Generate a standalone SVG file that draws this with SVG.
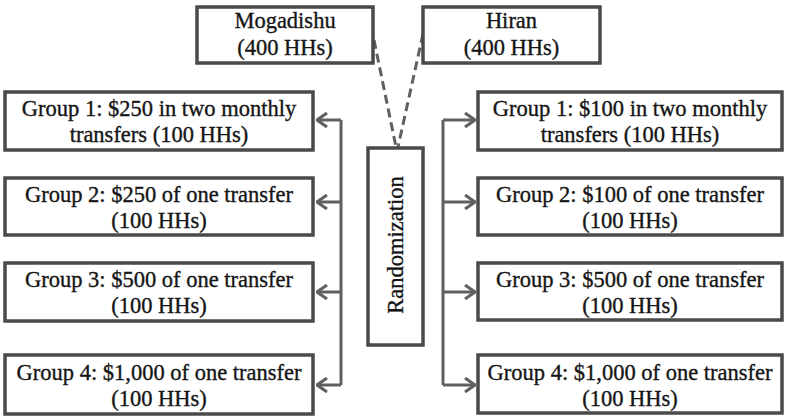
<svg xmlns="http://www.w3.org/2000/svg" width="787" height="416" viewBox="0 0 787 416">
<defs>
<style>
.box{fill:#fff;stroke:#4a4a4a;stroke-width:3.5}
.t{font-family:"Liberation Serif","Times New Roman",serif;font-size:22.5px;fill:#151515;stroke:#151515;stroke-width:0.35;text-anchor:middle}
.c{fill:none;stroke:#606060;stroke-width:3}
.d{fill:none;stroke:#606060;stroke-width:3;stroke-dasharray:9 5}
</style>
<marker id="ah" viewBox="0 0 12 16" refX="11" refY="8" markerWidth="12" markerHeight="16" markerUnits="userSpaceOnUse" orient="auto">
<path d="M1,1 L11,8 L1,15" fill="none" stroke="#606060" stroke-width="3"/>
</marker>
</defs>
<rect width="787" height="416" fill="#fff"/>
<g id="connectors">
<path class="d" d="M374,40 L396,147"/>
<path class="d" d="M423,34 L398,147"/>
<path class="c" d="M341,120 V385"/>
<path class="c" d="M341,120 H317" marker-end="url(#ah)"/>
<path class="c" d="M341,202 H317" marker-end="url(#ah)"/>
<path class="c" d="M341,292 H317" marker-end="url(#ah)"/>
<path class="c" d="M341,385 H317" marker-end="url(#ah)"/>
<path class="c" d="M443,120 V385"/>
<path class="c" d="M443,120 H475" marker-end="url(#ah)"/>
<path class="c" d="M443,202 H475" marker-end="url(#ah)"/>
<path class="c" d="M443,292 H475" marker-end="url(#ah)"/>
<path class="c" d="M443,385 H475" marker-end="url(#ah)"/>
</g>
<g id="mogadishu">
<rect class="box" x="197" y="7" width="176" height="56"/>
<text class="t" x="285" y="28">Mogadishu</text>
<text class="t" x="285" y="55">(400 HHs)</text>
</g>
<g id="hiran">
<rect class="box" x="423" y="7" width="177" height="56"/>
<text class="t" x="511.5" y="28">Hiran</text>
<text class="t" x="511.5" y="55">(400 HHs)</text>
</g>
<g id="randomization">
<rect class="box" x="368" y="148" width="55" height="197"/>
<text class="t" transform="translate(403,245) rotate(-90)">Randomization</text>
</g>
<g id="left-group1">
<rect class="box" x="5" y="92" width="308" height="58"/>
<text class="t" x="159" y="116">Group 1: $250 in two monthly</text>
<text class="t" x="159" y="142">transfers (100 HHs)</text>
</g>
<g id="left-group2">
<rect class="box" x="5" y="178" width="308" height="57"/>
<text class="t" x="159" y="202">Group 2: $250 of one transfer</text>
<text class="t" x="159" y="228">(100 HHs)</text>
</g>
<g id="left-group3">
<rect class="box" x="5" y="263" width="308" height="58"/>
<text class="t" x="159" y="287">Group 3: $500 of one transfer</text>
<text class="t" x="159" y="313">(100 HHs)</text>
</g>
<g id="left-group4">
<rect class="box" x="5" y="355" width="308" height="59"/>
<text class="t" x="159" y="380">Group 4: $1,000 of one transfer</text>
<text class="t" x="159" y="406">(100 HHs)</text>
</g>
<g id="right-group1">
<rect class="box" x="478" y="92" width="304" height="58"/>
<text class="t" x="630" y="116">Group 1: $100 in two monthly</text>
<text class="t" x="630" y="142">transfers (100 HHs)</text>
</g>
<g id="right-group2">
<rect class="box" x="478" y="178" width="304" height="57"/>
<text class="t" x="630" y="202">Group 2: $100 of one transfer</text>
<text class="t" x="630" y="228">(100 HHs)</text>
</g>
<g id="right-group3">
<rect class="box" x="478" y="263" width="304" height="57"/>
<text class="t" x="630" y="287">Group 3: $500 of one transfer</text>
<text class="t" x="630" y="313">(100 HHs)</text>
</g>
<g id="right-group4">
<rect class="box" x="478" y="355" width="304" height="58"/>
<text class="t" x="630" y="380">Group 4: $1,000 of one transfer</text>
<text class="t" x="630" y="406">(100 HHs)</text>
</g>
</svg>
